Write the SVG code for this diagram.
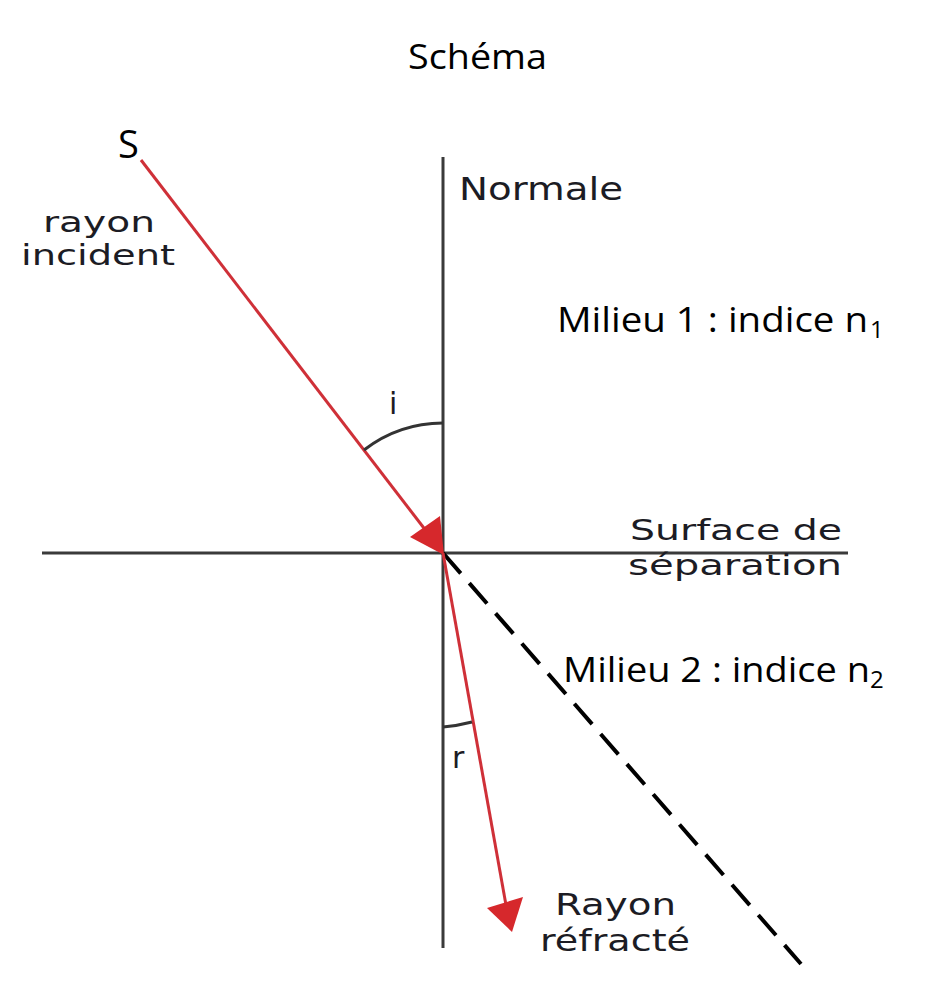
<svg xmlns="http://www.w3.org/2000/svg" width="936" height="992" viewBox="0 0 936 992">
<style>
.axis{stroke:#3a3a3a;stroke-width:3;fill:none}
.ray{stroke:#cf3038;stroke-width:3;fill:none}
.head{fill:#d6282c}
.dash{stroke:#000;stroke-width:4;stroke-dasharray:27 13;fill:none}
.arc{stroke:#333;stroke-width:3;fill:none}
.cal{font-family:"Open Sans","Liberation Sans",sans-serif;fill:#000}
.ver{font-family:"DejaVu Sans","Liberation Sans",sans-serif;fill:#1c1c24}
</style>
<rect width="936" height="992" fill="#fff"/>
<g id="title"><text class="cal" x="408" y="69" font-size="34" textLength="139" lengthAdjust="spacingAndGlyphs">Schéma</text></g>
<g id="connectors">
<line id="normal" class="axis" x1="443" y1="157" x2="443" y2="948"/>
<line id="surface" class="axis" x1="42" y1="553" x2="848" y2="553"/>
<line id="dashed" class="dash" x1="443" y1="553" x2="801" y2="964"/>
<line id="incident" class="ray" x1="141" y1="160" x2="430" y2="536"/>
<polygon class="head" points="444,555 410,537 440,516"/>
<line id="refracted" class="ray" x1="443" y1="553" x2="506" y2="905"/>
<polygon class="head" points="512,932 487,908 523,897"/>
<path id="arc-i" class="arc" d="M364 450 A130 130 0 0 1 443 423"/>
<path id="arc-r" class="arc" d="M443 727 A174 174 0 0 0 472 722"/>
</g>
<g id="label-S"><text class="cal" x="118" y="158" font-size="38">S</text></g>
<g id="label-rayon-incident">
<text class="ver" x="43" y="232" font-size="28" textLength="112" lengthAdjust="spacingAndGlyphs">rayon</text>
<text class="ver" x="21" y="265" font-size="28" textLength="154" lengthAdjust="spacingAndGlyphs">incident</text>
</g>
<g id="label-normale"><text class="ver" x="459" y="200" font-size="32" textLength="164" lengthAdjust="spacingAndGlyphs">Normale</text></g>
<g id="label-milieu1"><text class="cal" x="557" y="332" font-size="34" textLength="311" lengthAdjust="spacingAndGlyphs">Milieu 1 : indice n</text><text class="cal" x="870" y="338" font-size="24">1</text></g>
<g id="label-i"><text class="ver" x="389" y="414" font-size="30">i</text></g>
<g id="label-surface">
<text class="ver" x="630" y="540" font-size="29" textLength="212" lengthAdjust="spacingAndGlyphs">Surface de</text>
<text class="ver" x="628" y="575" font-size="29" textLength="214" lengthAdjust="spacingAndGlyphs">séparation</text>
</g>
<g id="label-milieu2"><text class="cal" x="563" y="682" font-size="34" textLength="307" lengthAdjust="spacingAndGlyphs">Milieu 2 : indice n</text><text class="cal" x="870" y="688" font-size="24">2</text></g>
<g id="label-r"><text class="ver" x="452" y="768" font-size="30">r</text></g>
<g id="label-rayon-refracte">
<text class="ver" x="555" y="915" font-size="30" textLength="121" lengthAdjust="spacingAndGlyphs">Rayon</text>
<text class="ver" x="540" y="951" font-size="30" textLength="150" lengthAdjust="spacingAndGlyphs">réfracté</text>
</g>
</svg>
